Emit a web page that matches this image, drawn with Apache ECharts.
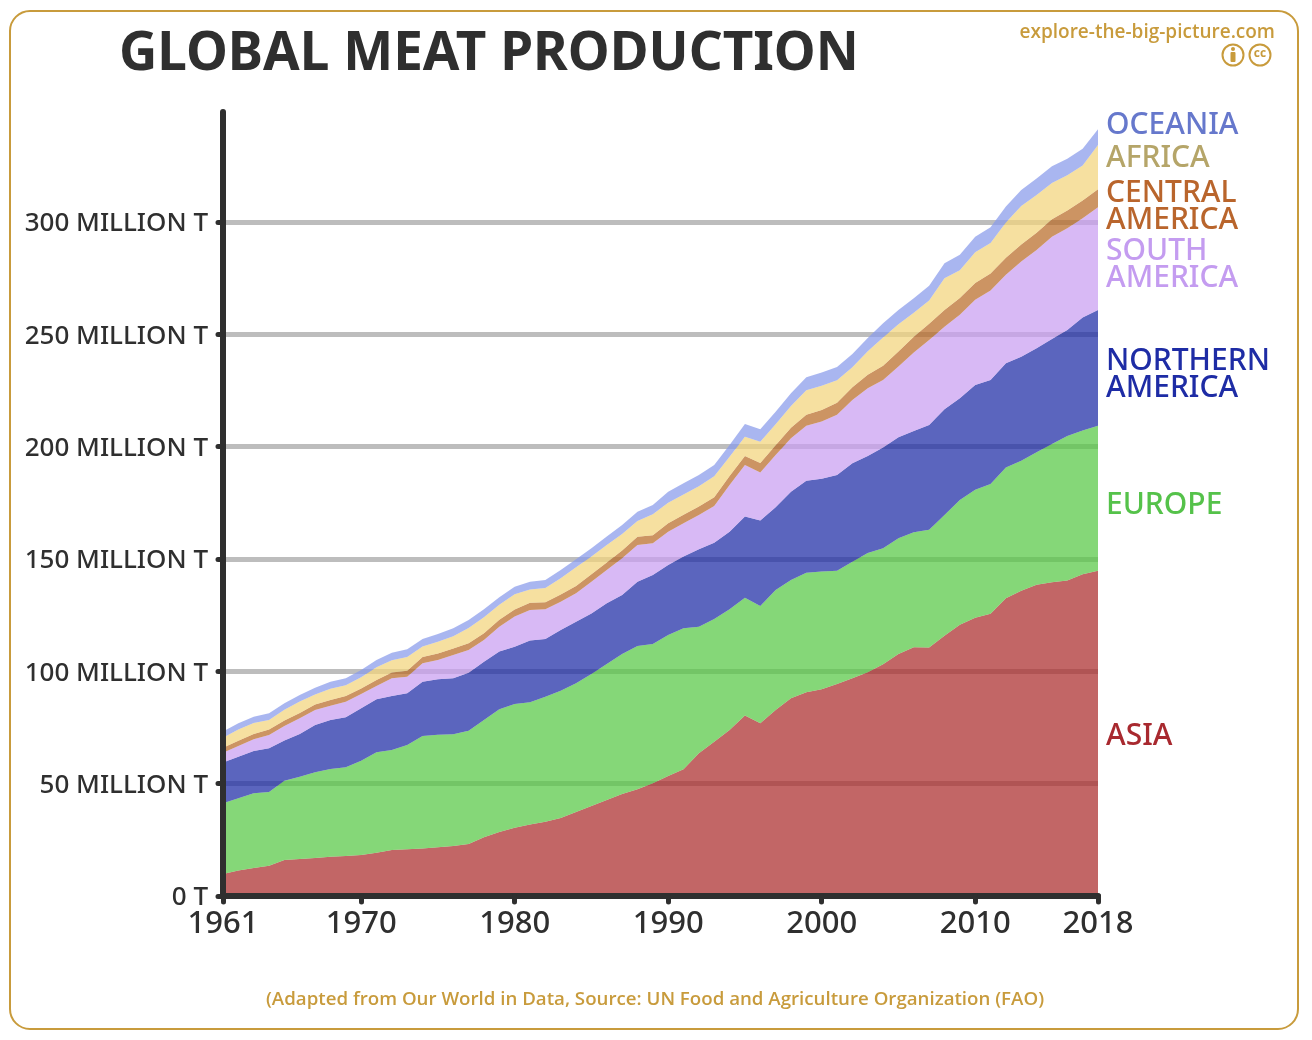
<!DOCTYPE html>
<html>
<head>
<meta charset="utf-8">
<style>
  html, body { margin: 0; padding: 0; background: #fff; }
  #chart { width: 1312px; height: 1040px; }
</style>
<script src="https://cdn.jsdelivr.net/npm/echarts@6/dist/echarts.min.js"></script>
</head>
<body>
<div id="chart"></div>
<script>
// Global meat production by region, million tonnes per year, 1961-2018.
const firstYear = 1961;
const xTicks = [1961, 1970, 1980, 1990, 2000, 2010, 2018];
const yTicks = [0, 50, 100, 150, 200, 250, 300];

const asia = [9.8,11.3,12.5,13.5,16.0,16.5,16.9,17.5,17.8,18.3,19.3,20.5,20.8,21.2,21.7,22.3,23.2,26.1,28.5,30.4,31.8,33.1,34.7,37.4,40.1,42.7,45.4,47.5,50.2,53.4,56.4,63.5,68.7,73.9,80.3,76.9,82.8,88.0,90.7,92.0,94.4,96.9,99.6,103.2,107.7,110.7,110.6,115.8,120.7,123.9,125.6,132.5,135.9,138.5,139.7,140.4,143.2,144.8];
const europe = [31.5,32.2,33.2,32.8,35.3,36.6,38.2,39.0,39.5,41.9,44.7,44.5,46.4,50.0,50.1,49.7,50.4,52.3,54.6,55.1,54.4,55.6,56.7,57.3,58.7,60.6,62.3,63.8,62.0,62.8,62.8,56.4,54.6,53.7,52.5,52.2,53.4,52.7,53.2,52.4,50.4,51.9,53.1,51.6,51.6,51.2,52.4,53.8,55.6,56.9,57.8,58.2,57.9,59.0,61.5,64.4,64.0,64.5];
const northernAmerica = [18.1,18.5,18.9,19.5,17.9,19.0,21.0,21.9,22.3,23.4,23.6,24.0,23.0,24.2,24.7,24.9,25.8,25.9,25.7,25.5,27.5,25.7,27.0,27.4,27.0,27.0,26.3,28.6,30.7,31.2,31.9,34.5,34.0,34.6,36.1,38.0,36.8,39.3,41.0,41.3,42.6,43.8,43.2,44.9,44.9,45.1,46.7,47.1,45.3,46.7,46.3,46.5,46.3,46.3,46.7,47.2,50.3,51.6];
const southAmerica = [4.4,4.8,5.2,5.9,6.5,7.0,6.7,6.3,6.9,6.3,5.9,7.9,7.4,8.2,8.6,10.4,10.1,9.7,11.1,13.4,13.6,13.2,12.6,12.7,14.1,14.8,16.3,16.4,14.1,14.8,14.8,15.2,16.3,20.8,23.0,21.4,23.3,23.8,24.4,25.5,26.8,28.2,30.1,30.0,31.5,34.9,37.8,36.7,37.1,37.9,39.8,39.3,42.3,43.8,45.6,45.3,44.2,45.7];
const centralAmerica = [2.2,2.3,2.3,2.4,2.4,2.4,2.5,2.5,2.5,2.5,2.6,2.6,2.7,2.8,2.9,2.9,3.0,3.0,3.1,3.1,3.2,3.2,3.2,3.2,3.3,3.4,3.5,3.6,3.6,3.7,3.8,3.8,3.9,4.0,4.0,4.2,4.4,4.6,4.9,5.1,5.4,5.7,6.0,6.3,6.7,7.0,7.2,7.5,7.5,7.5,7.6,7.6,7.6,7.7,7.8,7.8,7.9,8.0];
const africa = [4.5,5.0,4.9,4.3,4.8,5.1,4.4,5.1,4.8,5.0,5.7,5.4,6.1,4.7,5.2,5.4,6.8,7.1,6.6,6.8,5.9,6.3,7.3,8.3,7.9,7.7,7.4,7.0,9.3,9.2,9.0,9.0,9.3,8.5,8.5,9.5,9.3,9.7,10.9,10.8,10.0,8.9,10.5,12.6,12.1,10.7,10.4,14.1,12.4,13.7,13.6,15.7,17.1,16.8,16.1,15.7,15.6,19.7];
const oceania = [2.7,2.8,2.8,2.9,2.9,2.9,3.0,3.1,3.1,3.2,3.3,3.4,3.4,3.3,3.4,3.6,3.6,3.5,3.4,3.4,3.5,3.6,3.6,3.6,3.7,3.8,4.0,4.1,4.2,4.9,5.0,5.0,5.1,5.3,5.7,5.6,5.6,5.7,5.8,5.9,5.9,5.9,5.9,6.4,6.4,6.5,6.6,6.7,6.8,6.9,7.0,7.1,7.2,7.3,7.4,7.4,7.4,7.0];

const years = asia.map((_, i) => String(firstYear + i));

// Areas are translucent so the grid lines show through them.
const areaOpacity = 0.73;
const regions = [
  { name: 'ASIA', values: asia, fill: '#AB2D2D' },
  { name: 'EUROPE', values: europe, fill: '#58C846' },
  { name: 'NORTHERN AMERICA', values: northernAmerica, fill: '#1E2CA6' },
  { name: 'SOUTH AMERICA', values: southAmerica, fill: '#C99FF1' },
  { name: 'CENTRAL AMERICA', values: centralAmerica, fill: '#B96C29' },
  { name: 'AFRICA', values: africa, fill: '#F3D57D' },
  { name: 'OCEANIA', values: oceania, fill: '#899BEB' }
];

// Right-hand region captions, top to bottom.
const captions = [
  { text: 'OCEANIA', y: 125, color: '#6678CC' },
  { text: 'AFRICA', y: 158, color: '#B5A569' },
  { text: 'CENTRAL\nAMERICA', y: 207, color: '#B9652C' },
  { text: 'SOUTH\nAMERICA', y: 265, color: '#C49CF0' },
  { text: 'NORTHERN\nAMERICA', y: 375, color: '#1E2CA5' },
  { text: 'EUROPE', y: 505, color: '#55C24A' },
  { text: 'ASIA', y: 736, color: '#A8292F' }
];

const gold = '#C89B3C';
const ink = '#2F2F2F';
const handFont = '"Noto Sans", sans-serif';
const isYearTick = (index, value) => xTicks.includes(Number(value));

const chart = echarts.init(document.getElementById('chart'), null, { renderer: 'canvas' });

chart.setOption({
  animation: false,
  backgroundColor: '#fff',
  title: {
    text: 'GLOBAL MEAT PRODUCTION',
    left: 114,
    top: 23,
    textStyle: { color: ink, fontFamily: handFont, fontWeight: 700, fontSize: 53 }
  },
  grid: { left: 223, width: 875, top: 112, height: 784, containLabel: false },
  xAxis: {
    type: 'category',
    data: years,
    boundaryGap: false,
    z: 4,
    splitLine: { show: false },
    axisLine: { onZero: false, lineStyle: { color: ink, width: 6, cap: 'round' } },
    axisTick: { interval: isYearTick, length: 6, lineStyle: { color: ink, width: 5, cap: 'round' } },
    axisLabel: {
      interval: isYearTick,
      showMinLabel: true,
      showMaxLabel: true,
      hideOverlap: false,
      margin: 13,
      color: ink,
      fontFamily: handFont,
      fontWeight: 500,
      fontSize: 31
    }
  },
  yAxis: {
    type: 'value',
    min: 0,
    max: 349,
    z: 3,
    axisLine: { show: true, onZero: false, lineStyle: { color: ink, width: 6, cap: 'round' } },
    axisTick: { show: true, customValues: yTicks, length: 5, lineStyle: { color: ink, width: 5, cap: 'round' } },
    splitLine: { show: true, lineStyle: { color: '#BDBDBD', width: 5 } },
    axisLabel: {
      customValues: yTicks,
      formatter: v => '{t|' + (v === 0 ? '0 T' : v + ' MILLION T') + '}',
      margin: 15,
      rich: {
        t: {
          padding: [4, 0, 0, 0],
          color: ink,
          fontFamily: handFont,
          fontWeight: 500,
          fontSize: 26
        }
      }
    }
  },
  series: regions.map(r => ({
    name: r.name,
    type: 'line',
    stack: 'meat',
    symbol: 'none',
    data: r.values,
    lineStyle: { width: 0 },
    areaStyle: { color: r.fill, opacity: areaOpacity },
    itemStyle: { color: r.fill }
  })),
  graphic: [
    {
      type: 'rect',
      silent: true,
      z: -1,
      shape: { x: 10, y: 11, width: 1288, height: 1018, r: 20 },
      style: { fill: 'none', stroke: gold, lineWidth: 2 }
    },
    ...captions.map(c => ({
      type: 'text',
      x: 1106,
      y: c.y,
      style: {
        text: c.text,
        fill: c.color,
        font: '500 30px ' + handFont,
        lineHeight: 27,
        verticalAlign: 'middle'
      }
    })),
    {
      type: 'text',
      x: 1275,
      y: 33,
      style: {
        text: 'explore-the-big-picture.com',
        fill: gold,
        font: '600 19px "Open Sans", sans-serif',
        align: 'right',
        verticalAlign: 'middle'
      }
    },
    {
      type: 'circle',
      shape: { cx: 1233, cy: 55, r: 10.5 },
      style: { fill: 'none', stroke: gold, lineWidth: 2 }
    },
    {
      type: 'circle',
      shape: { cx: 1233, cy: 49, r: 2 },
      style: { fill: gold }
    },
    {
      type: 'rect',
      shape: { x: 1230.5, y: 52, width: 5, height: 10, r: 1 },
      style: { fill: gold }
    },
    {
      type: 'circle',
      shape: { cx: 1260, cy: 55, r: 10.5 },
      style: { fill: 'none', stroke: gold, lineWidth: 2 }
    },
    {
      type: 'text',
      x: 1260,
      y: 54,
      style: {
        text: 'cc',
        fill: gold,
        font: '700 12px "Open Sans", sans-serif',
        align: 'center',
        verticalAlign: 'middle'
      }
    },
    {
      type: 'text',
      x: 655,
      y: 1000,
      style: {
        text: '(Adapted from Our World in Data, Source: UN Food and Agriculture Organization (FAO)',
        fill: gold,
        font: '600 18.7px "Open Sans", sans-serif',
        align: 'center',
        verticalAlign: 'middle'
      }
    }
  ]
});
</script>
</body>
</html>
